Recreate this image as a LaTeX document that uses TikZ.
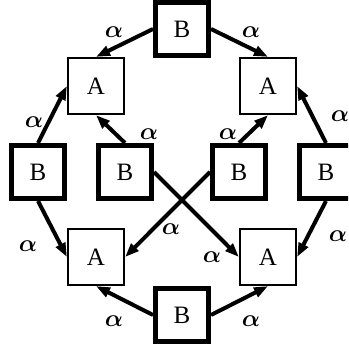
\documentclass[tikz,border=0pt]{standalone}
\usepackage{amsmath}
\usepackage{fontspec}
\setmainfont{Liberation Serif}
\usetikzlibrary{arrows.meta}

\begin{document}
\begin{tikzpicture}[
  x=0.5pt, y=-0.5pt,
  abox/.style={draw, line width=1.1pt, minimum size=28pt, inner sep=0pt,
    font=\fontsize{12.5}{14}\selectfont},
  bbox/.style={draw, line width=2.4pt, minimum size=26.6pt, inner sep=0pt,
    font=\fontsize{12.5}{14}\selectfont},
  lbl/.style={font=\fontsize{12}{14}\selectfont, inner sep=0pt},
  -{Triangle[length=7pt,width=5pt]}, line width=2pt
]
\useasboundingbox (0,0) rectangle (348,351);
\clip (0,0) rectangle (348,351);
% boxes
\node[bbox] (tb) at (182,29) {B};
\node[abox] (tla) at (96,86) {A};
\node[abox] (tra) at (268,86) {A};
\node[bbox] (lb) at (38,172) {B};
\node[bbox] (mlb) at (125,172) {B};
\node[bbox] (mrb) at (239,172) {B};
\node[bbox] (rb) at (326,172) {B};
\node[abox] (bla) at (96,257) {A};
\node[abox] (bra) at (268,257) {A};
\node[bbox] (bb) at (182,315) {B};
% arrows
\draw (tb.west) -- (tla.north);
\draw (tb.east) -- (tra.north);
\draw (lb.north) -- (tla.west);
\draw (mlb.north) -- (tla.south);
\draw (mrb.north) -- (tra.south);
\draw (rb.north) -- (tra.east);
\draw (lb.south) -- (bla.west);
\draw (mrb.west) -- (bla.east);
\draw (mlb.east) -- (bra.west);
\draw (rb.south) -- (bra.east);
\draw (bb.west) -- (bla.south);
\draw (bb.east) -- (bra.south);
% labels
\node[lbl] (a1) at (114,32) {$\boldsymbol\alpha$};
\node[lbl] (a2) at (251,32) {$\boldsymbol\alpha$};
\node[lbl] (a3) at (34,122) {$\boldsymbol\alpha$};
\node[lbl] (a4) at (149,134) {$\boldsymbol\alpha$};
\node[lbl] (a5) at (228,134) {$\boldsymbol\alpha$};
\node[lbl] (a6) at (340,116) {$\boldsymbol\alpha$};
\node[lbl] (a7) at (28,246) {$\boldsymbol\alpha$};
\node[lbl] (a8) at (171,229) {$\boldsymbol\alpha$};
\node[lbl] (a9) at (212,257) {$\boldsymbol\alpha$};
\node[lbl] (a10) at (338,236) {$\boldsymbol\alpha$};
\node[lbl] (a11) at (114,321) {$\boldsymbol\alpha$};
\node[lbl] (a12) at (251,321) {$\boldsymbol\alpha$};
\end{tikzpicture}
\end{document}
